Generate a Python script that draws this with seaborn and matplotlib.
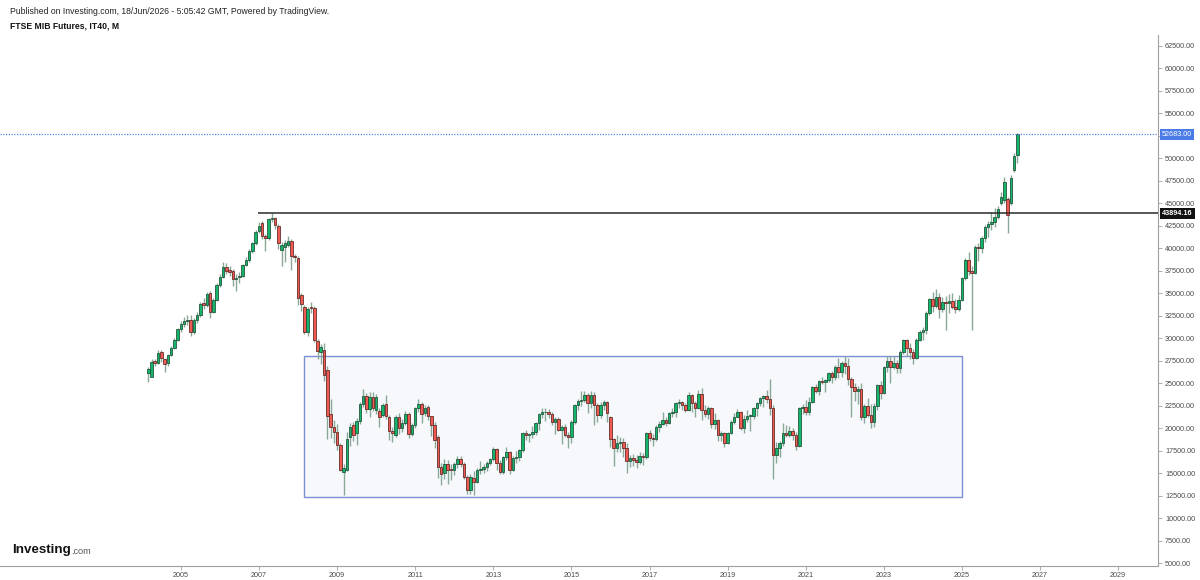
import numpy as np
import pandas as pd
import matplotlib
matplotlib.use("Agg")
import matplotlib.pyplot as plt
import matplotlib.transforms as mtransforms
from matplotlib.patches import Rectangle
import seaborn as sns

# ---------------- data (monthly OHLC, Mar-2004 .. Jun-2026) ----------------
first_month = "2004-03"

opens = [
    26100, 25650, 27450, 27280, 28500, 27650, 27200, 28140, 28950, 29800,
    30990, 31550, 31950, 32050, 30700, 32050, 32600, 33900, 33700, 35000, 32950, 34250,
    35900, 36850, 37900, 37600, 37500, 36600, 36850, 36950, 38150, 38650, 39750, 40550,
    41950, 42800, 41400, 41100, 43250, 43350, 42500, 39800, 40150, 40350, 40800, 39150,
    38950, 34800, 33450, 30650, 33450, 33400, 29700, 28500, 28750, 26450, 21550, 20100,
    19600, 18150, 15100, 15400, 19050, 20350, 19450, 20850, 22700, 23550, 22100, 23500,
    22050, 21950, 21450, 22700, 21200, 19700, 19250, 21300, 20000, 20550, 21550, 19350,
    20350, 22200, 22700, 21650, 22400, 21350, 20350, 18980, 15720, 14980, 16000, 15500,
    15350, 16000, 16550, 16000, 14600, 13150, 14500, 14050, 15350, 15450, 15700, 16100,
    16550, 17650, 16100, 15150, 16750, 17400, 15350, 16650, 16850, 17550, 19500, 19250,
    19350, 19600, 20600, 21600, 21750, 21850, 21550, 20700, 21000, 19850, 20150, 19250,
    19000, 20700, 22580, 23020, 23130, 23690, 22840, 23690, 22580, 21470, 22580, 22870,
    21300, 18760, 17760, 18390, 18500, 17800, 16400, 16650, 16450, 16200, 16950, 16800,
    19430, 18870, 18760, 20170, 20470, 20910, 20610, 21730, 21840, 22760, 22950, 22580,
    22020, 23690, 22760, 22210, 23800, 22020, 21620, 22210, 20470, 20910, 19240, 19420,
    18390, 19430, 20730, 21300, 21850, 20000, 21000, 21350, 21400, 22200, 22750, 23400,
    23550, 23250, 22300, 17050, 17750, 18300, 19430, 19250, 19700, 19250, 18000, 22300,
    22350, 21750, 22950, 24600, 24100, 25250, 25100, 25350, 26100, 25700, 26850, 26300,
    27300, 26900, 25500, 24600, 24100, 24400, 21300, 22450, 21500, 20700, 22450, 24800,
    23900, 26750, 27500, 26800, 27250, 26700, 28500, 29850, 28950, 28450, 27850, 29850,
    30700, 30900, 32850, 34350, 33600, 34600, 33300, 34050, 33900, 34100, 33500, 33200,
    34300, 36700, 38750, 37500, 37300, 40200, 40000, 41100, 42400, 42700, 42950, 43450,
    45000, 45350, 45450, 45050, 48700, 50350,
]
highs = [
    26840, 27700, 27700, 28700, 28700, 27800, 28300, 29100, 30000, 31100,
    31900, 32400, 32600, 32600, 32300, 32900, 34000, 34500, 35100, 35300, 34500, 36100,
    37100, 38500, 38400, 38000, 37700, 37100, 37400, 38300, 39000, 39900, 40700, 42000,
    42900, 43000, 41600, 43400, 43950, 43500, 42700, 40700, 40900, 41400, 41000, 39400,
    39100, 35000, 33700, 33500, 34000, 33600, 29900, 29400, 29500, 26900, 23300, 20900,
    20500, 18400, 16000, 19600, 20600, 20700, 21100, 22900, 24400, 23900, 24000, 24000,
    23800, 22200, 22800, 23700, 21500, 20100, 21500, 21700, 21000, 21900, 21800, 20600,
    22400, 23200, 22900, 22600, 22600, 21400, 20700, 19200, 16100, 16600, 16500, 16000,
    16200, 16900, 16900, 16200, 14800, 14900, 15200, 15600, 16300, 16000, 16300, 16700,
    17900, 17800, 16500, 16900, 17900, 17500, 16900, 17500, 17700, 19600, 19800, 19500,
    20200, 20700, 21700, 22300, 22300, 22100, 21800, 21200, 21300, 20400, 20500, 19600,
    20900, 22700, 23300, 24100, 24100, 23900, 24100, 24000, 22800, 22900, 23100, 23000,
    21400, 18900, 19200, 19000, 18900, 18300, 17000, 17100, 17000, 17300, 17200, 19600,
    19800, 19300, 20400, 20800, 21800, 21300, 21800, 22300, 22900, 23200, 23000, 22800,
    24000, 23800, 23000, 24300, 24500, 22600, 22500, 22400, 21700, 21000, 19700, 19600,
    19600, 20900, 21700, 22100, 21900, 21500, 22000, 21600, 22400, 22900, 23500, 23700,
    24200, 25500, 22600, 18500, 18600, 20600, 20400, 20200, 20000, 19600, 22400, 22700,
    23100, 23500, 24700, 24900, 25400, 25700, 25500, 26300, 26400, 27000, 27800, 27500,
    28000, 27800, 25700, 25000, 24700, 25000, 22700, 23400, 22700, 22800, 24900, 25300,
    26900, 28000, 28000, 28000, 27600, 28700, 29900, 29900, 29500, 28800, 30000, 30900,
    31200, 33000, 34500, 35200, 35500, 35000, 34600, 34700, 34900, 35000, 34400, 34800,
    36800, 38900, 39600, 38000, 40400, 40600, 41400, 42600, 43000, 44000, 44500, 44700,
    46300, 47900, 45700, 48100, 50550, 52800,
]
lows = [
    25170, 25650, 26900, 27100, 27400, 26300, 26900, 28000, 28800, 29700,
    30700, 31300, 31500, 30300, 30500, 31700, 32400, 33200, 33500, 32200, 32800, 34100,
    35700, 36700, 37100, 36900, 35800, 35300, 36200, 36800, 38000, 38500, 39500, 40400,
    41700, 41000, 39700, 40900, 42900, 42200, 39900, 38000, 38500, 40100, 37600, 38500,
    33700, 33000, 30500, 30300, 32800, 29600, 27700, 27100, 25200, 18800, 18900, 18300,
    17600, 15200, 12600, 15200, 18000, 18600, 18100, 20500, 22400, 21700, 21200, 21900,
    21600, 20100, 21300, 21000, 18700, 18500, 19000, 19300, 19600, 20300, 18900, 19100,
    20000, 21800, 20600, 21400, 20900, 19100, 17800, 14500, 13700, 14300, 13800, 14200,
    14800, 15600, 15700, 14300, 12700, 12700, 12550, 13900, 14900, 15000, 15200, 15900,
    16400, 15300, 14900, 14900, 16500, 14900, 15200, 16100, 16300, 17400, 18700, 18500,
    18900, 19200, 19800, 21100, 20800, 21100, 20300, 19400, 19700, 18200, 19000, 17800,
    18300, 20500, 22000, 22500, 22900, 21700, 22300, 20400, 20700, 21100, 22000, 20700,
    17900, 15800, 17400, 17400, 16800, 15000, 15700, 15800, 15600, 16000, 15900, 16600,
    18600, 18000, 18600, 19600, 20300, 20200, 20500, 21200, 21300, 22300, 22000, 21800,
    21900, 21800, 21300, 22100, 20900, 21200, 21000, 20000, 19900, 18600, 18600, 17900,
    18200, 19300, 20500, 21200, 19800, 19500, 20700, 19700, 21000, 21400, 22500, 22400,
    22800, 21500, 14300, 16100, 16800, 18000, 19000, 19000, 18700, 17600, 17900, 21600,
    21500, 21500, 22800, 23900, 23700, 24900, 24000, 25100, 25000, 25400, 25600, 25700,
    26000, 24800, 21200, 23000, 22700, 20900, 20600, 21200, 20000, 20100, 22000, 23200,
    23800, 26300, 25000, 26600, 26100, 26100, 28200, 28000, 27700, 27100, 27700, 29700,
    29800, 30500, 32600, 32900, 33400, 32300, 32900, 30900, 32800, 33200, 32800, 33000,
    34100, 36500, 37000, 30900, 37100, 38600, 39500, 40700, 41300, 42000, 42400, 43300,
    44800, 45000, 41700, 44800, 48500, 49500,
]
closes = [
    26540, 27400, 27280, 28320, 27770, 27140, 28140, 28950, 29800, 30990,
    31550, 31950, 32050, 30650, 32050, 32600, 33800, 33650, 34900, 32950, 34250, 35900,
    36850, 37900, 37480, 37400, 36550, 36750, 36950, 38150, 38650, 39750, 40550, 41850,
    42500, 41400, 41100, 43250, 43350, 42550, 40550, 40350, 40550, 40800, 39150, 39000,
    34450, 33800, 30750, 33200, 33400, 29800, 28600, 29000, 25900, 21350, 20100, 19600,
    18150, 15400, 15550, 18850, 20100, 19250, 20850, 22700, 23550, 22100, 23500, 22300,
    23450, 21300, 22550, 21350, 19700, 19500, 21200, 20000, 20550, 21550, 19350, 20350,
    22200, 22700, 21550, 22200, 21350, 20350, 18650, 15720, 14900, 16000, 15400, 15350,
    16000, 16550, 16000, 14600, 13150, 14550, 14050, 15350, 15450, 15700, 16100, 16550,
    17650, 16100, 15150, 16750, 17400, 15350, 16650, 16850, 17550, 19500, 19250, 19350,
    19600, 20600, 21600, 21750, 21850, 21550, 20700, 21000, 19850, 20150, 19250, 19000,
    20700, 22580, 23020, 23130, 23690, 22840, 23690, 22580, 21470, 22580, 22870, 21650,
    18760, 17760, 18390, 18500, 17800, 16400, 16650, 16450, 16200, 16950, 16800, 19430,
    18870, 18760, 20170, 20470, 20910, 20610, 21730, 21840, 22760, 22950, 22580, 22020,
    23690, 22760, 22210, 23800, 22020, 21620, 22210, 20470, 20910, 19240, 19420, 18390,
    19430, 20730, 21300, 21850, 20000, 21000, 21350, 21400, 22200, 22750, 23400, 23550,
    23250, 22300, 17050, 17750, 18300, 19430, 19250, 19700, 19250, 18000, 22300, 22350,
    21750, 22950, 24600, 24100, 25250, 25100, 25350, 26100, 25700, 26850, 26300, 27300,
    26900, 25500, 24600, 24100, 24400, 21300, 22450, 21500, 20700, 22450, 24800, 23900,
    26750, 27500, 26800, 27250, 26700, 28500, 29850, 28950, 28450, 27850, 29850, 30700,
    30900, 32850, 34350, 33600, 34600, 33300, 34050, 33900, 34100, 33500, 33200, 34300,
    36700, 38750, 37500, 37300, 40200, 40000, 41100, 42400, 42700, 42950, 43450, 44350,
    45750, 47400, 43700, 47850, 50250, 52683,
]

last_price = 52683.00
resistance = 43894.16
resistance_start = "2006-12"
box_start, box_end = "2008-03", "2025-01"
box_low, box_high = 12400, 28050

year_ticks = [2005, 2007, 2009, 2011, 2013, 2015, 2017, 2019, 2021, 2023, 2025, 2027, 2029]
price_ticks = list(range(5000, 62501, 2500))

title_line1 = "Published on Investing.com, 18/Jun/2026 - 5:05:42 GMT, Powered by TradingView."
title_line2 = "FTSE MIB Futures, IT40, M"

# ---------------- build frame ----------------
n = len(closes)
assert len(opens) == n and len(highs) == n and len(lows) == n
dates = pd.period_range(first_month, periods=n, freq="M")


def month_index(p):
    p = pd.Period(p, freq="M")
    return (p.year - 2005) * 12 + (p.month - 1)


df = pd.DataFrame({
    "m": [(d.year - 2005) * 12 + (d.month - 1) for d in dates],
    "open": opens, "high": highs, "low": lows, "close": closes,
})
df["up"] = df["close"] >= df["open"]
df["bottom"] = df[["open", "close"]].min(axis=1)
df["height"] = (df["close"] - df["open"]).abs().clip(lower=70)

# ---------------- style ----------------
sns.set_theme(style="white")
plt.rcParams["font.family"] = ["Liberation Sans", "DejaVu Sans"]

UP = "#14b56a"
DOWN = "#f05a50"
UP_EDGE = "#1d4d36"
DOWN_EDGE = "#5a2420"
WICK = "#8aa898"

fig = plt.figure(figsize=(12, 5.8), dpi=100)
fig.patch.set_facecolor("white")
axes_right_px = 1158
ax = fig.add_axes([0, 14 / 580, axes_right_px / 1200, 531 / 580])
ax.set_facecolor("white")

px_per_month = 3.255
jan2005_px = 180.8
xmin = -jan2005_px / px_per_month
xmax = (axes_right_px - jan2005_px) / px_per_month
ymin, ymax = 4676, 63723
ax.set_xlim(xmin, xmax)
ax.set_ylim(ymin, ymax)

# selection rectangle
x0, x1 = month_index(box_start) - 0.2, month_index(box_end) + 0.1
ax.add_patch(Rectangle((x0, box_low), x1 - x0, box_high - box_low,
                       facecolor="#f7f8fc", edgecolor="#7b8fd4", linewidth=1.0, zorder=1))

# wicks
ax.vlines(df["m"], df["low"], df["high"], color=WICK, linewidth=1.0, zorder=2)
# bodies
colors = np.where(df["up"], UP, DOWN)
edges = np.where(df["up"], UP_EDGE, DOWN_EDGE)
ax.bar(df["m"], df["height"], bottom=df["bottom"], width=0.78,
       color=colors, edgecolor=edges, linewidth=0.55, zorder=3)

# lines
ax.axhline(last_price, color="#5b80e6", linewidth=0.9, linestyle=(0, (1, 1.2)), zorder=4)
ax.plot([month_index(resistance_start) + 0.7, xmax], [resistance, resistance],
        color="#2a2a2a", linewidth=1.1, zorder=4, solid_capstyle="butt")

# axes styling
for s in ["left", "top"]:
    ax.spines[s].set_visible(False)
for s in ["bottom", "right"]:
    ax.spines[s].set_color("#a0a0a0")
    ax.spines[s].set_linewidth(0.8)

ax.yaxis.tick_right()
ax.set_yticks(price_ticks)
# the 52500 label sits under the last-price tag
ax.set_yticklabels(["" if v == 52500 else f"{v:.2f}" for v in price_ticks])
ax.set_xticks([(y - 2005) * 12 for y in year_ticks])
ax.set_xticklabels([str(y) for y in year_ticks])
ax.tick_params(axis="y", which="major", right=True, length=3, width=0.6, color="#a0a0a0",
               labelsize=5.2, labelcolor="#4a4a4a", pad=2.0)
ax.tick_params(axis="x", which="major", bottom=True, length=3, width=0.6, color="#a0a0a0",
               labelsize=5.2, labelcolor="#4a4a4a", pad=1.5)
ax.grid(False)

# price tags on the axis
trans = mtransforms.blended_transform_factory(ax.transAxes, ax.transData)
ax.text(1.0035, last_price, f"{last_price:.2f}", transform=trans, ha="left", va="center",
        fontsize=5.2, color="white", zorder=6,
        bbox=dict(boxstyle="square,pad=0.3", facecolor="#4a7be6", edgecolor="none"))
ax.text(1.0035, resistance, f"{resistance:.2f}", transform=trans, ha="left", va="center",
        fontsize=5.2, color="white", fontweight="bold", zorder=6,
        bbox=dict(boxstyle="square,pad=0.3", facecolor="#111111", edgecolor="none"))

# header
fig.text(10 / 1200, 1 - 11 / 580, title_line1, ha="left", va="center", fontsize=6.2, color="#222222")
fig.text(10 / 1200, 1 - 26 / 580, title_line2, ha="left", va="center", fontsize=6.2,
         color="#111111", fontweight="bold")

# logo
fig.text(12 / 1200, 1 - 550 / 580, "Investing", ha="left", va="center", fontsize=9.6,
         fontweight="bold", color="#111111")
fig.text(71 / 1200, 1 - 552 / 580, ".com", ha="left", va="center", fontsize=6.6,
         color="#555555")

fig.savefig("out.png", dpi=100, facecolor="white")
